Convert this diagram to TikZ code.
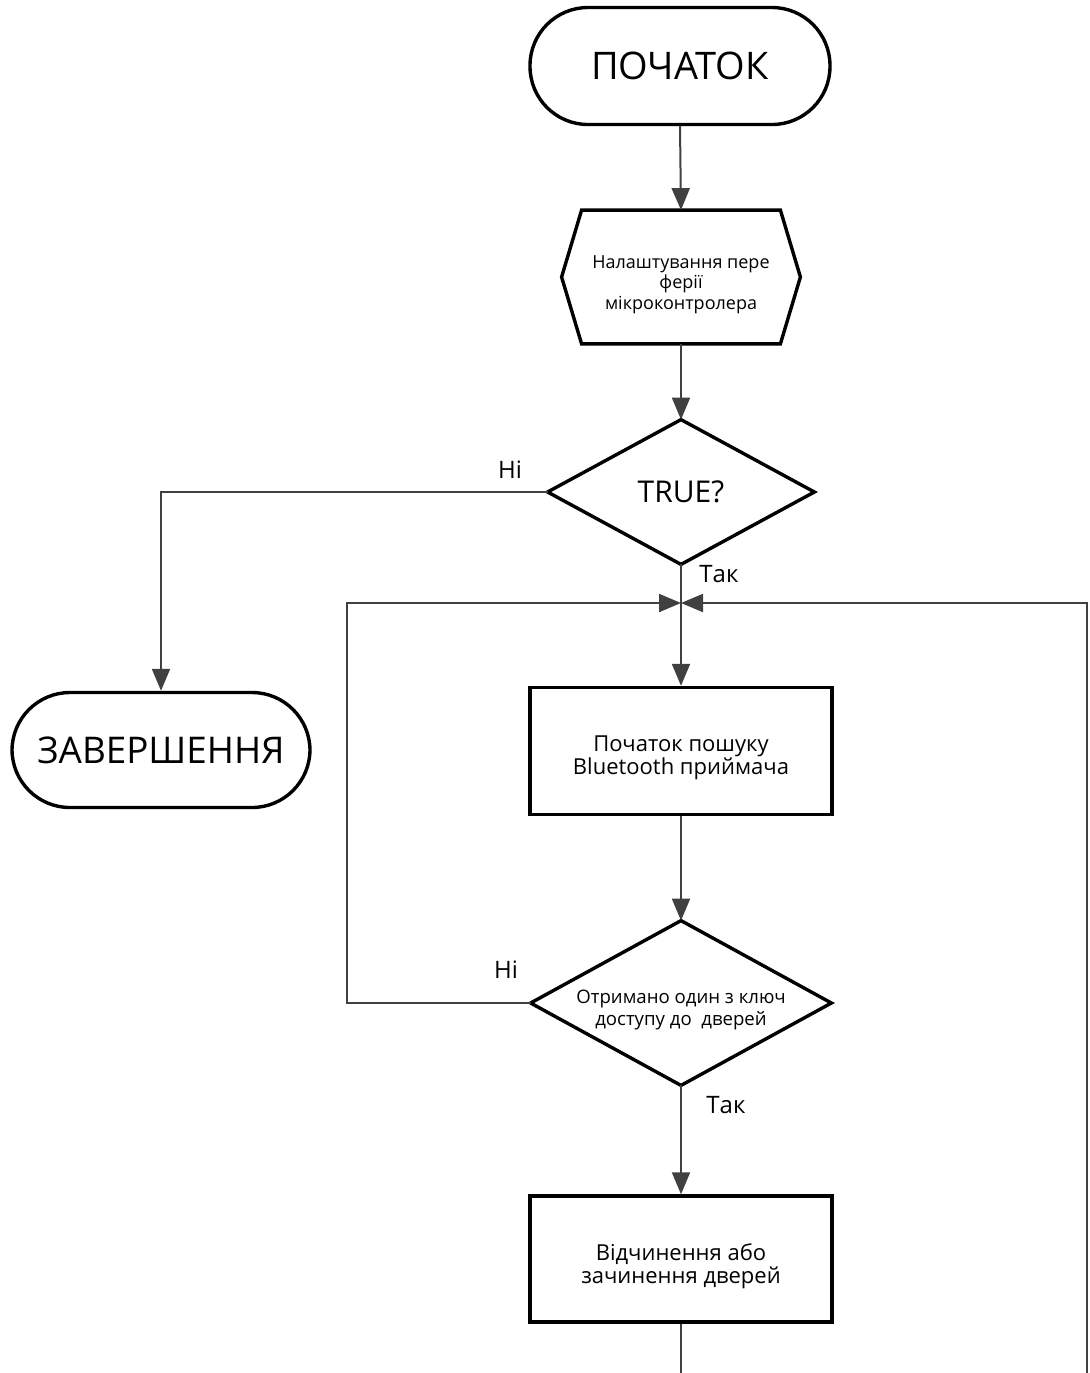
\documentclass[tikz,border=0pt]{standalone}
\usepackage{fontspec}
\setmainfont{Open Sans}
\usetikzlibrary{arrows.meta}

% centred block of lines, set a little below the middle of its shape
\newcommand{\lowlines}[1]{\raisebox{-3.7pt}[\height][\depth]{\begin{tabular}{@{}c@{}}#1\end{tabular}}}

\tikzset{
  shapeline/.style={line width=1.7pt, draw=black, line join=miter},
  terminal/.style={shapeline, rectangle, rounded corners=29pt, inner sep=0pt},
  procbox/.style={shapeline, rectangle, inner sep=0pt, align=center,
    font=\fontsize{11}{10.6}\selectfont},
  slot/.style={draw=none, rectangle, inner sep=0pt, align=center},
  hextext/.style={font=\fontsize{9}{10.25}\selectfont},
  keytext/.style={font=\fontsize{9.3}{11}\selectfont},
  flow/.style={line width=1pt, draw=black!75, -{Triangle[length=11pt,width=9pt]}},
  plainflow/.style={line width=1pt, draw=black!75},
  branch/.style={font=\fontsize{12}{14}\selectfont, inner sep=0pt},
}

\begin{document}
\begin{tikzpicture}[x=0.5pt, y=-0.5pt]
  \useasboundingbox (0,0) rectangle (1090,1373);

  % terminals
  \node[terminal, font=\fontsize{19}{22}\selectfont, minimum width=150pt, minimum height=58.5pt]
    (start) at (680,66) {ПОЧАТОК};
  \node[terminal, font=\fontsize{18.4}{22}\selectfont, minimum width=149pt, minimum height=57.5pt]
    (finish) at (161,750) {ЗАВЕРШЕННЯ};

  % preparation hexagon
  \node[slot, hextext, minimum width=119pt, minimum height=66.5pt] (setup) at (681,277)
    {\lowlines{Налаштування пере\\ферії\\мікроконтролера}};
  \draw[shapeline] ([xshift=10pt]setup.north west) -- ([xshift=-10pt]setup.north east)
    -- (setup.east) -- ([xshift=-10pt]setup.south east) -- ([xshift=10pt]setup.south west)
    -- (setup.west) -- cycle;

  % first decision
  \node[slot, font=\fontsize{15}{17}\selectfont, minimum width=133pt, minimum height=72pt]
    (cond) at (681,492) {TRUE?};
  \draw[shapeline] (cond.north) -- (cond.east) -- (cond.south) -- (cond.west) -- cycle;

  % loop junction
  \coordinate (join) at (681,603);
  \coordinate (loopL) at (347,603);
  \coordinate (loopR) at (1087,603);

  % search box
  \node[procbox, minimum width=151pt, minimum height=63.5pt] (search) at (681,751)
    {\lowlines{Початок пошуку\\Bluetooth приймача}};

  % key decision
  \node[slot, keytext, minimum width=150pt, minimum height=82pt] (key) at (681,1003)
    {\lowlines{Отримано один з ключ\\доступу до\ \ дверей}};
  \draw[shapeline] (key.north) -- (key.east) -- (key.south) -- (key.west) -- cycle;

  % door box
  \node[procbox, minimum width=151pt, minimum height=63pt] (door) at (681,1259)
    {\lowlines{Відчинення або\\зачинення дверей}};

  % free ends at the lower border, and bends
  \coordinate (doorOut) at (681,1373);
  \coordinate (rightOut) at (1087,1373);
  \coordinate (leftCorner) at (161,492);
  \coordinate (keyCorner) at (347,1003);

  % connectors
  \draw[flow] (start.south) -- (setup.north);
  \draw[flow] (setup.south) -- (cond.north);
  \draw[flow] (cond.west) -- (leftCorner) -- (finish.north);
  \draw[plainflow] (cond.south) -- (join);
  \draw[flow] (join) -- (search.north);
  \draw[flow] (search.south) -- (key.north);
  \draw[flow] (key.west) -- (keyCorner) -- (loopL) -- (join);
  \draw[flow] (key.south) -- (door.north);
  \draw[plainflow] (door.south) -- (doorOut);
  \draw[flow] (rightOut) -- (loopR) -- (join);

  % branch labels
  \node[branch] (noA) at (510,470) {Ні};
  \node[branch] (yesA) at (719,574) {Так};
  \node[branch] (noB) at (506,970) {Ні};
  \node[branch] (yesB) at (726,1105) {Так};
\end{tikzpicture}
\end{document}
